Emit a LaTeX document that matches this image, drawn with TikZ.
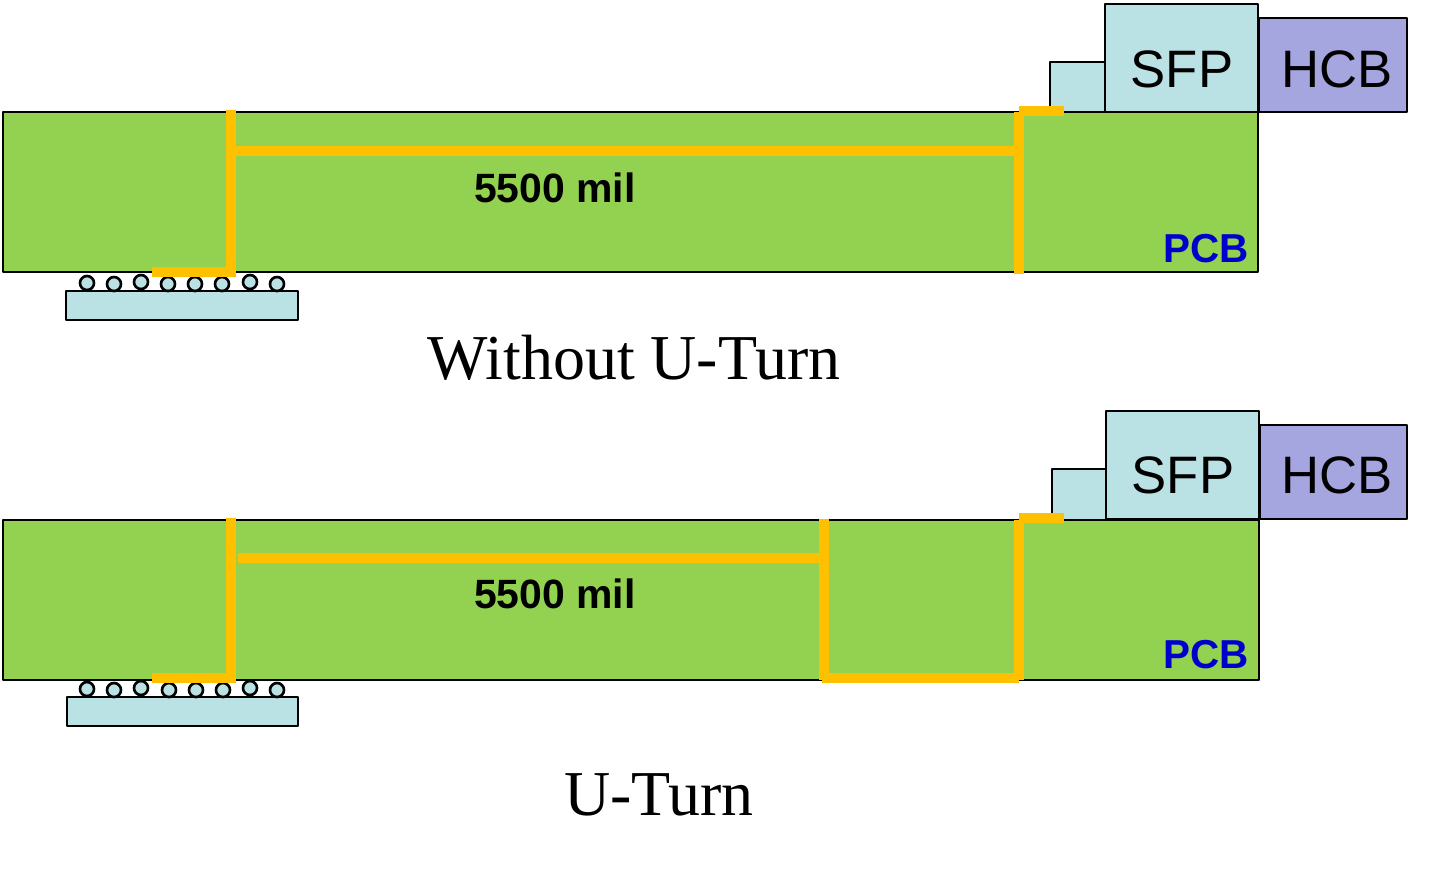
\documentclass[tikz,border=0pt]{standalone}
\usepackage{fontspec}
\setmainfont{Liberation Serif}
\setsansfont{Liberation Sans}
\definecolor{pcbgreen}{HTML}{92D250}
\definecolor{sfpblue}{HTML}{BAE1E4}
\definecolor{hcbpurple}{HTML}{A5A5E0}
\definecolor{traceorange}{HTML}{FFC000}
\definecolor{pcbtext}{HTML}{0000CC}
\tikzset{
  board/.style={draw=black,line width=1.5pt,line join=round},
  trace/.style={draw=traceorange,line width=6.2pt},
  ball/.style={draw=black,fill=sfpblue,line width=1.5pt},
  partlabel/.style={font=\sffamily\fontsize{30}{30}\selectfont},
  lenlabel/.style={font=\sffamily\bfseries\fontsize{23.3}{23.3}\selectfont},
  pcblabel/.style={font=\sffamily\bfseries\fontsize{23}{23}\selectfont,text=pcbtext},
  caption/.style={font=\fontsize{36.4}{36.4}\selectfont}
}
\begin{document}
\begin{tikzpicture}[x=0.02cm,y=-0.02cm]
    \useasboundingbox (0,0) rectangle (1430,870);

    % Without U-Turn: board and connector
    \draw[board,fill=pcbgreen] (3,112) rectangle (1258,272);
    \draw[board,fill=sfpblue] (1050,62) rectangle (1105,112);
    \draw[board,fill=sfpblue] (1105,4) rectangle (1258,112);
    \draw[board,fill=hcbpurple] (1259,18) rectangle (1407,112);

    % Without U-Turn: package and balls
    \draw[board,fill=sfpblue] (66,291) rectangle (298,320);
    \foreach \x/\y in {87/283,114/284,141/282,168/284,195/284,222/284,250/282,277/284}
        \draw[ball] (\x,\y) circle (7);

    % Without U-Turn: trace
    \draw[trace] (152,272) -- (236,272);
    \draw[trace] (231,110) -- (231,274);
    \draw[trace] (231,151) -- (1019,151);
    \draw[trace] (1019,112) -- (1019,274);
    \draw[trace] (1019,111) -- (1064,111);

    \node[partlabel] (sfpa) at (1182,69) {SFP};
    \node[partlabel] (hcba) at (1337,69) {HCB};
    \node[lenlabel] (lena) at (555,188) {5500 mil};
    \node[pcblabel] (pcba) at (1206,249) {PCB};
    \node[caption] (capa) at (634,358) {Without U-Turn};

    % U-Turn: board and connector
    \draw[board,fill=pcbgreen] (3,520) rectangle (1259,680);
    \draw[board,fill=sfpblue] (1052,469) rectangle (1106,520);
    \draw[board,fill=sfpblue] (1106,411) rectangle (1259,519);
    \draw[board,fill=hcbpurple] (1260,425) rectangle (1407,519);

    % U-Turn: package and balls
    \draw[board,fill=sfpblue] (67,697) rectangle (298,726);
    \foreach \x/\y in {87/689,114/690,141/688,169/690,196/690,223/690,250/688,277/690}
        \draw[ball] (\x,\y) circle (7);

    % U-Turn: trace
    \draw[trace] (152,678) -- (236,678);
    \draw[trace] (231,518) -- (231,680);
    \draw[trace] (238,558) -- (824,558);
    \draw[trace] (824,519) -- (824,680);
    \draw[trace] (822,678) -- (1019,678);
    \draw[trace] (1019,520) -- (1019,680);
    \draw[trace] (1019,518) -- (1064,518);

    \node[partlabel] (sfpb) at (1183,475) {SFP};
    \node[partlabel] (hcbb) at (1337,475) {HCB};
    \node[lenlabel] (lenb) at (555,594) {5500 mil};
    \node[pcblabel] (pcbb) at (1206,655) {PCB};
    \node[caption] (capb) at (659,795) {U-Turn};
\end{tikzpicture}
\end{document}
